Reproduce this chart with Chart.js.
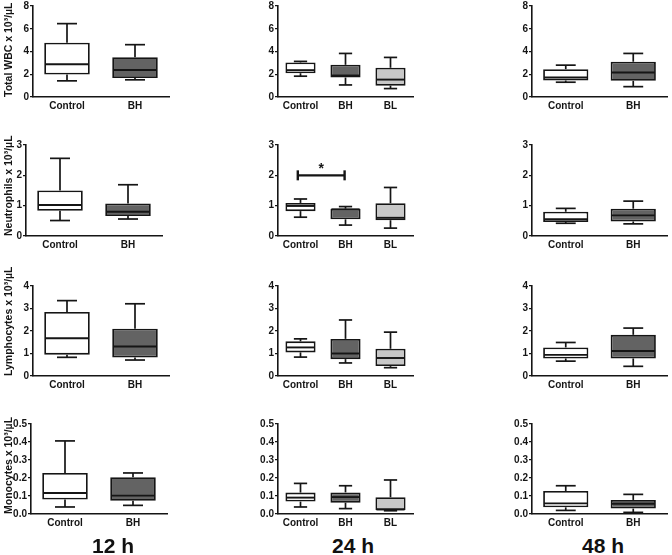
<!DOCTYPE html>
<html>
<head>
<meta charset="utf-8">
<script src="https://cdn.jsdelivr.net/npm/chart.js@4.4.0/dist/chart.umd.min.js"></script>
<style>
  body { margin: 0; background: #fff; }
  #wrap { position: relative; width: 672px; height: 555px; overflow: hidden; font-family: "Liberation Sans", Arial, sans-serif; }
  .panel { position: absolute; }
  .time { position: absolute; font-weight: bold; font-size: 21px; color: #111; transform: translate(-50%, -50%); white-space: nowrap; }
</style>
</head>
<body>
<div id="wrap"></div>
<script>
// groups per time point
const groups12 = ['Control', 'BH'];
const groups24 = ['Control', 'BH', 'BL'];
const groups48 = ['Control', 'BH'];
const fills = { Control: '#ffffff', BH: '#636363', BL: '#c8c8c8' };

// each box: [min, q1, median, q3, max]
const wbc12 = [[1.42, 1.98, 2.88, 4.77, 6.45], [1.51, 1.66, 2.38, 3.49, 4.60]];
const wbc24 = [[1.83, 2.09, 2.36, 3.04, 3.13], [1.06, 1.71, 1.89, 2.83, 3.83], [0.74, 1.00, 1.53, 2.57, 3.48]];
const wbc48 = [[1.30, 1.45, 1.71, 2.45, 2.80], [0.91, 1.42, 2.15, 3.10, 3.83]];
const neu12 = [[0.51, 0.83, 1.02, 1.50, 2.56], [0.56, 0.66, 0.80, 1.07, 1.69]];
const neu24 = [[0.62, 0.82, 0.99, 1.09, 1.22], [0.36, 0.55, 0.88, 0.90, 0.97], [0.26, 0.52, 0.60, 1.08, 1.60]];
const neu48 = [[0.42, 0.46, 0.55, 0.80, 0.91], [0.40, 0.48, 0.68, 0.90, 1.15]];
const lym12 = [[0.83, 0.95, 1.68, 2.85, 3.35], [0.71, 0.82, 1.31, 2.10, 3.21]];
const lym24 = [[0.84, 1.05, 1.27, 1.54, 1.65], [0.58, 0.75, 1.00, 1.65, 2.49], [0.37, 0.44, 0.80, 1.21, 1.95]];
const lym48 = [[0.66, 0.78, 0.94, 1.27, 1.49], [0.43, 0.78, 1.11, 1.83, 2.13]];
const mon12 = [[0.039, 0.080, 0.117, 0.228, 0.406], [0.048, 0.074, 0.102, 0.204, 0.228]];
const mon24 = [[0.039, 0.069, 0.091, 0.119, 0.170], [0.030, 0.063, 0.094, 0.120, 0.157], [0.018, 0.022, 0.025, 0.093, 0.189]];
const mon48 = [[0.020, 0.037, 0.059, 0.128, 0.157], [0.009, 0.030, 0.057, 0.078, 0.109]];

const yTitles = ['Total WBC x 10³/µL', 'Neutrophils x 10³/µL', 'Lymphocytes x 10³/µL', 'Monocytes x 10³/µL'];
const yMax = [8, 3, 4, 0.5];
const yStep = [2, 1, 1, 0.1];
const timeLabels = ['12 h', '24 h', '48 h'];

// significance bar (neutrophils, 24 h): from / to category index, height
const sigSpan = [-0.06, 0.98];
const sigLevel = 2;
const sigText = '*';

const grid = [
  [wbc12, wbc24, wbc48],
  [neu12, neu24, neu48],
  [lym12, lym24, lym48],
  [mon12, mon24, mon48]
];
const colGroups = [groups12, groups24, groups48];

// layout of each plot area (axis box) in page pixels
const rowTop = [6, 145, 286, 424];
const rowBottom = [97, 236, 376, 514];
const col1Left = [33, 26, 33, 31];
const colLeft = [null, 278, 532];
const colWidth = [136, 135, 135];
const timeX = [113, 353, 603];
const timeY = 546;

const FONT = '"Liberation Sans", Arial, sans-serif';
const INK = '#151515';

const boxWhiskers = {
  id: 'boxWhiskers',
  afterDatasetsDraw(chart) {
    const ctx = chart.ctx;
    const meta = chart.getDatasetMeta(0);
    const stats = chart.data.datasets[0].stats;
    const y = chart.scales.y;
    ctx.save();
    ctx.strokeStyle = INK;
    ctx.lineWidth = 1.7;
    const line = (x1, y1, x2, y2) => {
      ctx.beginPath(); ctx.moveTo(x1, y1); ctx.lineTo(x2, y2); ctx.stroke();
    };
    meta.data.forEach((bar, i) => {
      const s = stats[i];
      const x = bar.x;
      const half = bar.width / 2;
      const cap = bar.width * 0.22;
      const pMin = y.getPixelForValue(s[0]);
      const pQ1 = y.getPixelForValue(s[1]);
      const pMed = y.getPixelForValue(s[2]);
      const pQ3 = y.getPixelForValue(s[3]);
      const pMax = y.getPixelForValue(s[4]);
      line(x, pQ3, x, pMax);
      line(x - cap, pMax, x + cap, pMax);
      line(x, pQ1, x, pMin);
      line(x - cap, pMin, x + cap, pMin);
      ctx.lineWidth = 1.9;
      line(x - half + 1, pMed, x + half - 1, pMed);
      ctx.lineWidth = 1.7;
    });
    const sig = chart.options.plugins.boxWhiskers;
    if (sig && sig.show) {
      const xs = chart.scales.x;
      const x1 = xs.getPixelForValue(sigSpan[0]);
      const x2 = xs.getPixelForValue(sigSpan[1]);
      const py = y.getPixelForValue(sigLevel);
      ctx.lineWidth = 2.4;
      line(x1, py, x2, py);
      line(x1, py - 5, x1, py + 5);
      line(x2, py - 5, x2, py + 5);
      ctx.fillStyle = INK;
      ctx.font = 'bold 14px ' + FONT;
      ctx.textAlign = 'center';
      ctx.textBaseline = 'alphabetic';
      ctx.fillText(sigText, (x1 + x2) / 2, py - 2);
    }
    ctx.restore();
  }
};

const wrap = document.getElementById('wrap');
const padRight = 4, xH = 18;

for (let r = 0; r < 4; r++) {
  for (let c = 0; c < 3; c++) {
    const stats = grid[r][c];
    const labels = colGroups[c];
    const padTop = c === 0 ? 34 : 8;
    const axisLeft = c === 0 ? col1Left[r] : colLeft[c];
    const yW = c === 0 ? axisLeft : 32;
    const left = axisLeft - yW;
    const top = rowTop[r] - padTop;
    const w = yW + colWidth[c] + padRight;
    const h = padTop + (rowBottom[r] - rowTop[r]) + xH;

    const box = document.createElement('div');
    box.className = 'panel';
    box.style.left = left + 'px';
    box.style.top = top + 'px';
    box.style.width = w + 'px';
    box.style.height = h + 'px';
    const canvas = document.createElement('canvas');
    box.appendChild(canvas);
    wrap.appendChild(box);

    const decimals = yStep[r] < 1 ? 1 : 0;

    new Chart(canvas, {
      type: 'bar',
      data: {
        labels: labels,
        datasets: [{
          data: stats.map(s => [s[1], s[3]]),
          stats: stats,
          backgroundColor: labels.map(g => fills[g]),
          borderColor: INK,
          borderWidth: 1.8,
          borderSkipped: false,
          categoryPercentage: 1,
          barPercentage: 0.67
        }]
      },
      options: {
        responsive: true,
        maintainAspectRatio: false,
        animation: false,
        events: [],
        layout: { padding: { top: padTop, right: padRight, left: 0, bottom: 0 } },
        plugins: {
          legend: { display: false },
          tooltip: { enabled: false },
          boxWhiskers: { show: r === 1 && c === 1 }
        },
        scales: {
          x: {
            type: 'category',
            offset: true,
            afterFit: s => { s.height = xH; },
            grid: { display: false, drawTicks: false },
            border: { display: true, color: INK, width: 1.6 },
            ticks: { color: INK, padding: 3, font: { family: FONT, weight: 'bold', size: 10 } }
          },
          y: {
            min: 0,
            max: yMax[r],
            afterFit: s => { s.width = yW; },
            grid: { display: true, drawOnChartArea: false, drawTicks: true, tickLength: 3, color: INK, lineWidth: 1.2 },
            border: { display: true, color: INK, width: 1.6 },
            ticks: {
              stepSize: yStep[r],
              color: INK,
              padding: 1,
              font: { family: FONT, weight: 'bold', size: 10 },
              callback: v => Number(v).toFixed(decimals)
            },
            title: {
              display: c === 0,
              text: yTitles[r],
              align: 'start',
              color: INK,
              padding: { top: 3, bottom: 0 },
              font: { family: FONT, weight: 'bold', size: 10.5 }
            }
          }
        }
      },
      plugins: [boxWhiskers]
    });
  }
}

timeLabels.forEach((t, i) => {
  const d = document.createElement('div');
  d.className = 'time';
  d.textContent = t;
  d.style.left = timeX[i] + 'px';
  d.style.top = timeY + 'px';
  wrap.appendChild(d);
});
</script>
</body>
</html>
